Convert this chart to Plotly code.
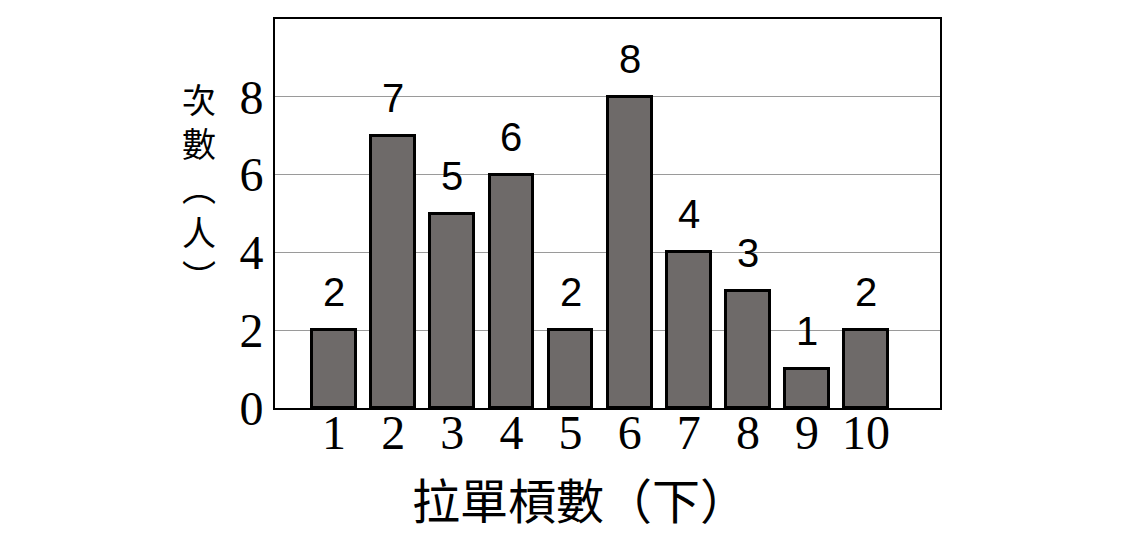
import plotly.graph_objects as go

pulls = [1, 2, 3, 4, 5, 6, 7, 8, 9, 10]
counts = [2, 7, 5, 6, 2, 8, 4, 3, 1, 2]
y_ticks = [0, 2, 4, 6, 8]
x_title = "拉單槓數（下）"
y_title_chars = ["次", "數", "︵", "人", "︶"]

fig = go.Figure()
fig.add_trace(go.Bar(
    x=pulls, y=counts, width=0.74,
    marker=dict(color="#6e6a69", line=dict(color="#000000", width=3)),
    hoverinfo="skip",
))

for xv, yv in zip(pulls, counts):
    fig.add_annotation(x=xv, y=yv, text=str(yv), showarrow=False,
                       yanchor="bottom", yshift=14,
                       font=dict(family="Liberation Sans", size=40, color="#000"))

fig.add_annotation(xref="paper", yref="paper", x=-0.1143, y=0.567,
                   text="<br>".join(y_title_chars), showarrow=False,
                   xanchor="center", yanchor="middle",
                   font=dict(family="Noto Sans CJK TC", size=34, color="#000"))

fig.add_annotation(xref="paper", yref="paper", x=0.4586, y=-0.232,
                   text=x_title, showarrow=False,
                   xanchor="center", yanchor="middle",
                   font=dict(family="Noto Sans CJK TC", size=48, color="#000"))

fig.update_layout(
    width=1140, height=550,
    margin=dict(l=267, r=208, t=9, b=150),
    paper_bgcolor="white", plot_bgcolor="white",
    showlegend=False,
    bargap=0,
)
fig.update_xaxes(range=[0, 11.25], tickvals=pulls, ticktext=[str(p) for p in pulls],
                 showgrid=False, zeroline=False,
                 showline=True, mirror=True, linecolor="#000", linewidth=2,
                 ticks="", ticklabelstandoff=-19,
                 tickfont=dict(family="Liberation Serif", size=48, color="#000"))
fig.update_yaxes(range=[0, 10], tickvals=y_ticks, ticktext=[str(v) for v in y_ticks],
                 showgrid=True, gridcolor="#9a9a9a", gridwidth=1, zeroline=False,
                 showline=True, mirror=True, linecolor="#000", linewidth=2,
                 ticks="", ticklabelstandoff=0,
                 tickfont=dict(family="Liberation Serif", size=48, color="#000"))

fig.write_html("out.html")
